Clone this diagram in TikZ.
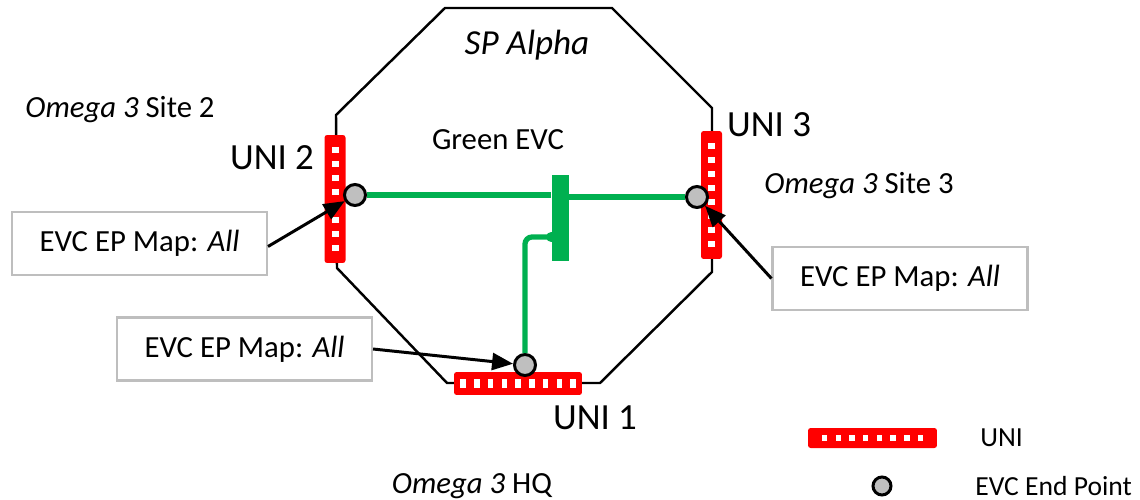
\documentclass[tikz,border=0pt]{standalone}
\usepackage{fontspec}
\setmainfont{Carlito}
\usetikzlibrary{arrows.meta,positioning,calc}
\definecolor{evcgreen}{RGB}{0,176,80}
\definecolor{epgray}{RGB}{191,191,191}
\definecolor{boxgray}{RGB}{190,190,190}
\tikzset{
    octo/.style    = {draw=black, line width=1.4pt},
    unibar/.style  = {rectangle, fill=red, rounded corners=1.5pt, inner sep=0pt},
    univert/.style = {unibar, minimum width=0.42cm, minimum height=2.56cm},
    unihorz/.style = {unibar, minimum width=2.56cm, minimum height=0.46cm},
    unisq/.style   = {rectangle, fill=white, inner sep=0pt, minimum size=0.14cm},
    endpt/.style   = {circle, draw=black, line width=1.7pt, fill=epgray, minimum size=0.42cm, inner sep=0pt},
    evcbar/.style  = {rectangle, fill=evcgreen, inner sep=0pt, minimum width=0.34cm, minimum height=1.74cm},
    evc/.style     = {draw=evcgreen, line width=3pt},
    mapbox/.style  = {rectangle, draw=boxgray, line width=1.2pt, minimum width=5.1cm, minimum height=1.26cm,
                      font=\fontsize{17.5}{20}\selectfont},
    ptr/.style     = {-{Triangle[length=0.42cm, width=0.34cm]}, line width=1.7pt},
    lbl/.style     = {font=\fontsize{17.5}{20}\selectfont, inner sep=0pt},
    unilbl/.style  = {font=\fontsize{21}{24}\selectfont, inner sep=0pt},
    legtext/.style = {font=\fontsize{15.7}{18}\selectfont, inner sep=0pt}
}

\begin{document}
\begin{tikzpicture}[x=0.02cm, y=-0.02cm]
    \useasboundingbox (0,0) rectangle (1140,500);

    % SP network
    \draw[octo] (336,115) -- (445,8) -- (612,8) -- (712,108) -- (712,272)
        -- (600,383) -- (447,383) -- (337,268) -- cycle;
    \node[unilbl, font=\fontsize{20}{24}\selectfont\itshape] (sp) at (527,45) {SP Alpha};

    % UNIs
    \node[univert] (uni2) at (335,199) {};
    \node[univert] (uni3) at (711.5,195) {};
    \node[unihorz] (uni1) at (518,383.5) {};
    \foreach \k in {-3.5,-2.5,...,3.5} {
        \node[unisq] at ($(uni2)+(0,\k*14)$) {};
        \node[unisq] at ($(uni3)+(0,\k*14)$) {};
    }
    \foreach \k in {-4,...,4}
        \node[unisq, minimum width=0.11cm, minimum height=0.19cm] at ($(uni1)+(\k*13.75,0)$) {};

    % EVC end points
    \node[endpt] (ep2) at (355,195) {};
    \node[endpt] (ep3) at (697,197) {};
    \node[endpt] (ep1) at (525,365) {};

    % Green EVC
    \node[evcbar] (evc) at (560,218) {};
    \coordinate (tap) at ($(evc.west)+(0,19)$);
    \draw[evc] (ep2) -- (ep2 -| evc.west);
    \draw[evc] (ep3 -| evc.east) -- (ep3);
    \fill[evcgreen] (tap) circle[radius=0.1cm];
    \draw[evc, rounded corners=4pt] (tap) -- (tap -| ep1) -- (ep1);
    \node[lbl] (evcname) at (498,140) {Green EVC};

    % Labels
    \node[lbl] (site2) at (120,110) {\textit{Omega 3} Site 2};
    \node[lbl] (site3) at (859,186) {\textit{Omega 3} Site 3};
    \node[lbl] (hq) at (472,486) {\textit{Omega 3} HQ};
    \node[unilbl] (uni2name) at (272,158) {UNI 2};
    \node[unilbl] (uni3name) at (769,125) {UNI 3};
    \node[unilbl] (uni1name) at (595,418) {UNI 1};

    % EP maps
    \node[mapbox] (map2) at (139.5,243.5) {EVC EP Map: \textit{All}};
    \node[mapbox] (map3) at (900,278.5) {EVC EP Map: \textit{All}};
    \node[mapbox] (map1) at (244.5,349) {EVC EP Map: \textit{All}};
    \draw[ptr] ($(map2.east)+(0,3)$) -- (ep2);
    \draw[ptr] (map3.west) -- (ep3);
    \draw[ptr] (map1.east) -- (ep1);

    % Legend
    \node[unibar, minimum width=2.58cm, minimum height=0.4cm] (legbar) at (872.5,438) {};
    \foreach \k in {-3.5,-2.5,...,3.5}
        \node[unisq, minimum size=0.11cm] at ($(legbar)+(\k*13.7,0)$) {};
    \node[legtext, anchor=west] (leguni) at (980,438) {UNI};
    \node[endpt, minimum size=0.36cm] (legep) at (882,486) {};
    \node[legtext, anchor=west] (legepname) at (975,486) {EVC End Point};
\end{tikzpicture}
\end{document}
